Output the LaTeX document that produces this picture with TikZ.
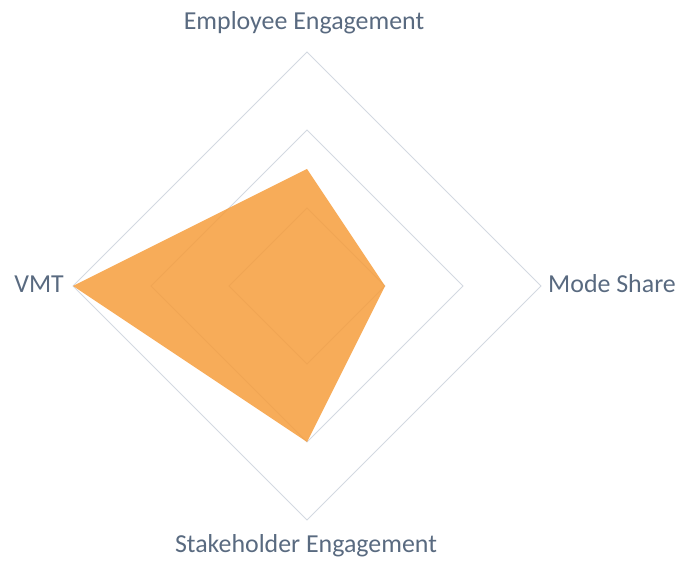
\documentclass[tikz,border=0pt]{standalone}
\usepackage{fontspec}
\setmainfont{Carlito}
\usetikzlibrary{calc}
\definecolor{gridgray}{HTML}{D3D9E1}
\definecolor{labelblue}{HTML}{596A80}
\definecolor{fillorange}{HTML}{F69D3C}
\begin{document}
\begin{tikzpicture}[x=1bp,y=1bp]
\useasboundingbox (0,0) rectangle (681,565);
\tikzset{lbl/.style={text=labelblue, font=\fontsize{26}{30}\selectfont, inner sep=0pt}}
\coordinate (c) at (307,279);
% grid rings
\foreach \r in {1,2,3}{
\draw[gridgray, line width=0.9pt] ($(c)+(0,78*\r)$) -- ($(c)+(78*\r,0)$) -- ($(c)+(0,-78*\r)$) -- ($(c)+(-78*\r,0)$) -- cycle;
}
% data
\coordinate (ee) at ($(c)+(0,117)$);
\coordinate (ms) at ($(c)+(78,0)$);
\coordinate (se) at ($(c)+(0,-156)$);
\coordinate (vmt) at ($(c)+(-234,0)$);
\fill[fillorange, fill opacity=0.85] (ee) -- (ms) -- (se) -- (vmt) -- cycle;
% labels
\node[lbl, anchor=base] (lee) at (304,535) {Employee Engagement};
\node[lbl, anchor=base west] (lms) at (548,272) {Mode Share};
\node[lbl, anchor=base] (lse) at (306,12) {Stakeholder Engagement};
\node[lbl, anchor=base east] (lvmt) at (64,272) {VMT};
\end{tikzpicture}
\end{document}
